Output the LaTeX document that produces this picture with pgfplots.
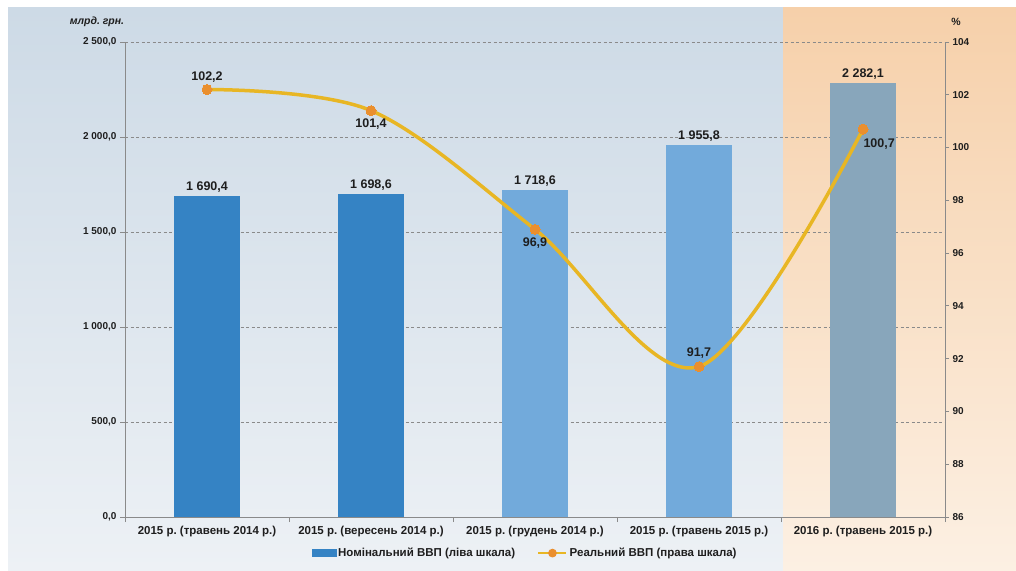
\documentclass[border=0pt]{standalone}
\usepackage{pgfplots}
\pgfplotsset{compat=1.18}
\usepackage{fontspec}
\setmainfont{Liberation Sans}
\usetikzlibrary{shadings}
\frenchspacing

\definecolor{barA}{HTML}{3583C4}
\definecolor{barB}{HTML}{72AADB}
\definecolor{barC}{HTML}{88A6BB}
\definecolor{gdpline}{HTML}{E8B624}
\definecolor{gdpmark}{HTML}{EA8F2E}
\definecolor{axgray}{HTML}{8A8A8A}
\definecolor{bgtop}{HTML}{CDDAE6}
\definecolor{bgbot}{HTML}{EDF1F5}
\definecolor{ortop}{HTML}{F6D0AA}
\definecolor{orbot}{HTML}{FCF0E3}
\definecolor{txt}{HTML}{1E1E1E}

\pgfplotsset{
  common/.style={
    at={(125pt,53pt)}, anchor=south west,
    scale only axis, width=820pt, height=475pt,
    xmin=-0.5, xmax=4.5,
    axis line style={axgray, line width=0.8pt},
    tick style={axgray, line width=0.8pt},
    tick align=outside,
    major tick length=5pt,
    /pgf/number format/assume math mode=true,
  },
}

\begin{document}
\begin{tikzpicture}
\fill[white] (0,0) rectangle (1016pt,570pt);
\shade[top color=bgtop, bottom color=bgbot] (8pt,0pt) rectangle (783pt,562pt);
\shade[top color=ortop, bottom color=orbot] (783pt,0pt) rectangle (1016pt,562pt);

% left scale: nominal GDP, bln UAH
\begin{axis}[common,
    ymin=0, ymax=2500,
    axis y line*=left, axis x line*=bottom,
    ytick={0,500,...,2500},
    xtick={0,...,4},
    major x tick style={draw=none},
    minor xtick={-0.5,0.5,...,4.5},
    minor tick length=5pt,
    xticklabels={2015 р. (травень 2014 р.), 2015 р. (вересень 2014 р.), 2015 р. (грудень 2014 р.), 2015 р. (травень 2015 р.), 2016 р. (травень 2015 р.)},
    xticklabel style={font=\bfseries\fontsize{11.5}{13}\selectfont, text=txt, yshift=-1pt},
    yticklabel style={font=\bfseries\fontsize{10}{12}\selectfont, text=txt,
      /pgf/number format/.cd, fixed, fixed zerofill, precision=1, use comma, 1000 sep={\ }},
    ymajorgrids,
    grid style={axgray, dash pattern=on 3pt off 2.5pt, line width=0.7pt},
    ybar, bar width=66pt, bar shift=0pt,
    nodes near coords,
    nodes near coords style={font=\bfseries\fontsize{12.5}{14}\selectfont, text=txt,
      /pgf/number format/.cd, fixed, fixed zerofill, precision=1, use comma, 1000 sep={\ }},
  ]
  \addplot[fill=barA, draw=none] coordinates {(0,1690.4)};
  \addplot[fill=barA, draw=none] coordinates {(1,1698.6)};
  \addplot[fill=barB, draw=none] coordinates {(2,1718.6)};
  \addplot[fill=barB, draw=none] coordinates {(3,1955.8)};
  \addplot[fill=barC, draw=none] coordinates {(4,2282.1)};
\end{axis}

% right scale: real GDP, %
\begin{axis}[common,
    ymin=86, ymax=104,
    axis y line*=right, axis x line=none,
    ytick={86,88,...,104},
    major tick length=4pt,
    yticklabel style={font=\bfseries\fontsize{10}{11}\selectfont, text=txt},
    legend columns=2,
    legend style={at={(0.488,-0.076)}, anchor=center, draw=none, fill=none,
      font=\bfseries\fontsize{11.5}{13}\selectfont, text=txt,
      /tikz/every even column/.append style={column sep=20pt},
      /tikz/every odd column/.append style={inner xsep=1pt}},
  ]
  \addlegendimage{legend image code/.code={\fill[barA] (2pt,-3.5pt) rectangle (26pt,3.5pt);}}
  \addplot[gdpline, line width=3.5pt, smooth, tension=0.55,
    mark=*, mark size=5pt, mark options={fill=gdpmark, draw=gdpmark, line width=0pt},
    legend image code/.code={
      \draw[gdpline, line width=2.5pt] (0pt,0pt) -- (28pt,0pt);
      \fill[gdpmark] (14pt,0pt) circle (2.5pt);}]
    coordinates {(0,102.2) (1,101.4) (2,96.9) (3,91.7) (4,100.7)};
  \legend{Номінальний ВВП (ліва шкала), Реальний ВВП (права шкала)}

  \begin{scope}[every node/.style={font=\bfseries\fontsize{12.5}{14}\selectfont, text=txt}]
  \node[above=4pt] at (axis cs:0,102.2) {102,2};
  \node[below=5pt] at (axis cs:1,101.4) {101,4};
  \node[below=5pt] at (axis cs:2,96.9) {96,9};
  \node[above=5pt] at (axis cs:3,91.7) {91,7};
  \node[anchor=north west, xshift=-3pt, yshift=-6pt] at (axis cs:4,100.7) {100,7};
  \end{scope}
\end{axis}

\node[font=\bfseries\itshape\fontsize{10.5}{12}\selectfont, text=txt] at (97pt,548pt) {млрд. грн.};
\node[font=\bfseries\fontsize{10.5}{12}\selectfont, text=txt] at (956pt,548pt) {\%};
\end{tikzpicture}
\end{document}
